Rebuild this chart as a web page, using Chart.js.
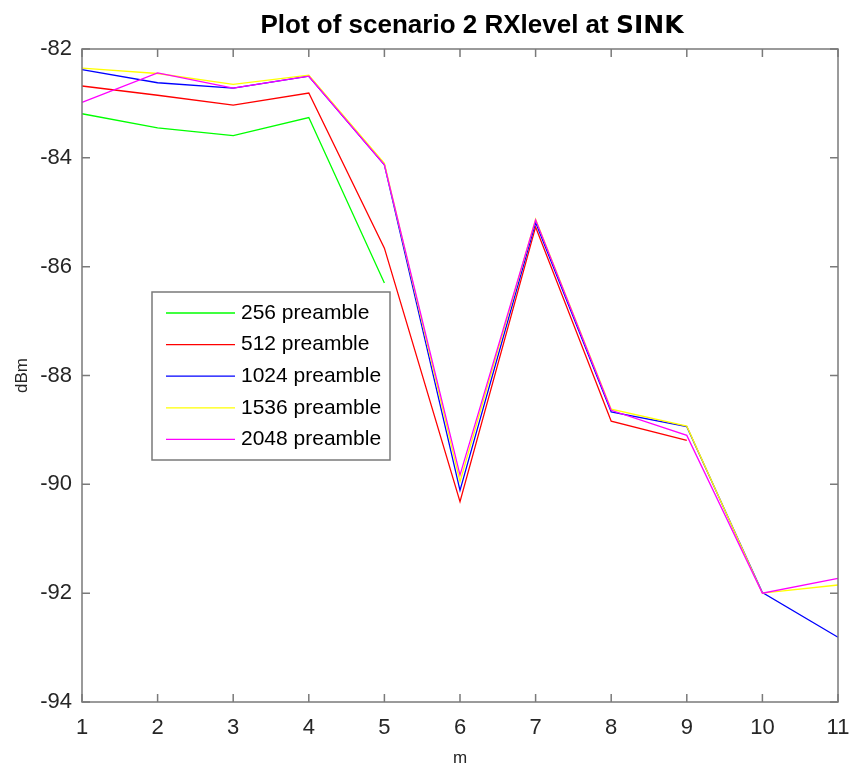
<!DOCTYPE html>
<html>
<head>
<meta charset="utf-8">
<title>RXlevel at SINK</title>
<script src="https://cdn.jsdelivr.net/npm/chart.js@4.4.0/dist/chart.umd.min.js"></script>
<style>
  html, body { margin: 0; padding: 0; background: #fff; }
  #wrap { width: 849px; height: 769px; }
</style>
</head>
<body>
<div id="wrap"><canvas id="chart" width="849" height="769"></canvas></div>
<script>
// distance index along the path (m)
const positions = ['1', '2', '3', '4', '5', '6', '7', '8', '9', '10', '11'];
const yTicks = [-94, -92, -90, -88, -86, -84, -82];

// received level per preamble length (dBm)
const rx256  = [-83.19, -83.45, -83.59, -83.26, -86.30];
const rx512  = [-82.68, -82.85, -83.03, -82.81, -85.66, -90.32, -85.27, -88.84, -89.19];
const rx1024 = [-82.38, -82.62, -82.72, -82.50, -84.13, -90.11, -85.19, -88.67, -88.94, -91.99, -92.81];
const rx1536 = [-82.35, -82.45, -82.65, -82.48, -84.10, -89.95, -85.13, -88.62, -88.93, -92.00, -91.85];
const rx2048 = [-82.98, -82.44, -82.72, -82.50, -84.13, -89.83, -85.14, -88.64, -89.10, -92.00, -91.73];

const seriesNames = ['256 preamble', '512 preamble', '1024 preamble', '1536 preamble', '2048 preamble'];
const seriesColors = ['#00ff00', '#ff0000', '#0000ff', '#ffff00', '#ff00ff'];
const seriesData = [rx256, rx512, rx1024, rx1536, rx2048];

const FONT = '"Liberation Sans", Arial, sans-serif';
const AXIS_COLOR = '#7a7a7a';

// box around the plot with inward ticks on all four sides
const axesBox = {
    id: 'axesBox',
    afterDatasetsDraw(chart) {
        const { ctx, chartArea: a, scales } = chart;
        const len = 8;
        ctx.save();
        ctx.strokeStyle = AXIS_COLOR;
        ctx.lineWidth = 1.5;
        ctx.strokeRect(a.left, a.top, a.right - a.left, a.bottom - a.top);
        ctx.beginPath();
        positions.forEach((p, i) => {
            const x = scales.x.getPixelForValue(i);
            ctx.moveTo(x, a.bottom); ctx.lineTo(x, a.bottom - len);
            ctx.moveTo(x, a.top); ctx.lineTo(x, a.top + len);
        });
        yTicks.forEach(v => {
            const y = scales.y.getPixelForValue(v);
            ctx.moveTo(a.left, y); ctx.lineTo(a.left + len, y);
            ctx.moveTo(a.right, y); ctx.lineTo(a.right - len, y);
        });
        ctx.stroke();
        ctx.restore();
    }
};

// legend box inside the plot area
const legendBox = {
    id: 'legendBox',
    afterDraw(chart) {
        const ctx = chart.ctx;
        const x = 152, y = 292, w = 238, h = 168;
        ctx.save();
        ctx.fillStyle = '#fff';
        ctx.fillRect(x, y, w, h);
        ctx.strokeStyle = AXIS_COLOR;
        ctx.lineWidth = 1.5;
        ctx.strokeRect(x, y, w, h);
        ctx.font = '21px ' + FONT;
        ctx.textBaseline = 'middle';
        ctx.textAlign = 'left';
        chart.data.datasets.forEach((ds, i) => {
            const cy = 313 + i * 31.6;
            ctx.strokeStyle = ds.borderColor;
            ctx.lineWidth = 1.3;
            ctx.beginPath();
            ctx.moveTo(166, cy);
            ctx.lineTo(235, cy);
            ctx.stroke();
            ctx.fillStyle = '#000';
            ctx.fillText(ds.label, 241, cy);
        });
        ctx.restore();
    }
};

// title with the last word set in a different face
const titleText = {
    id: 'titleText',
    afterDraw(chart) {
        const ctx = chart.ctx;
        const part1 = 'Plot of scenario 2 RXlevel at ';
        const part2 = 'SINK';
        const f1 = 'bold 26px ' + FONT;
        const f2 = 'bold 25px "DejaVu Sans", Verdana, sans-serif';
        ctx.save();
        ctx.fillStyle = '#000';
        ctx.textBaseline = 'alphabetic';
        ctx.font = f1;
        const w1 = ctx.measureText(part1).width;
        ctx.font = f2;
        const w2 = ctx.measureText(part2).width;
        const x0 = 472 - (w1 + w2) / 2;
        ctx.font = f1;
        ctx.fillText(part1, x0, 33);
        ctx.font = f2;
        ctx.fillText(part2, x0 + w1, 33);
        ctx.restore();
    }
};

new Chart(document.getElementById('chart'), {
    type: 'line',
    data: {
        labels: positions,
        datasets: seriesData.map((d, i) => ({
            label: seriesNames[i],
            data: d,
            borderColor: seriesColors[i],
            backgroundColor: seriesColors[i],
            borderWidth: 1.3,
            pointRadius: 0,
            tension: 0,
            fill: false,
            order: seriesData.length - i
        }))
    },
    options: {
        responsive: false,
        animation: false,
        layout: { padding: { left: 0, right: 11, top: 49, bottom: 0 } },
        plugins: {
            legend: { display: false },
            title: { display: false },
            tooltip: { enabled: false }
        },
        scales: {
            x: {
                type: 'category',
                offset: false,
                grid: { display: false, drawTicks: false },
                border: { display: false },
                ticks: { color: '#262626', font: { family: FONT, size: 22 }, padding: 13, maxRotation: 0, autoSkip: false },
                title: { display: true, text: 'm', color: '#262626', font: { family: FONT, size: 17 }, padding: { top: 0, bottom: 0 } },
                afterFit(scale) {
                    scale.height = 67;
                    scale.paddingLeft = 0;
                    scale.paddingRight = 0;
                }
            },
            y: {
                min: -94,
                max: -82,
                grid: { display: false, drawTicks: false },
                border: { display: false },
                afterBuildTicks(scale) { scale.ticks = yTicks.map(v => ({ value: v })); },
                ticks: { color: '#262626', font: { family: FONT, size: 22 }, padding: 10 },
                title: { display: true, text: 'dBm', color: '#262626', font: { family: FONT, size: 17 }, padding: { top: 12, bottom: 0 } },
                afterFit(scale) {
                    scale.width = 82;
                    scale.paddingTop = 0;
                    scale.paddingBottom = 0;
                }
            }
        }
    },
    plugins: [axesBox, legendBox, titleText]
});
</script>
</body>
</html>
